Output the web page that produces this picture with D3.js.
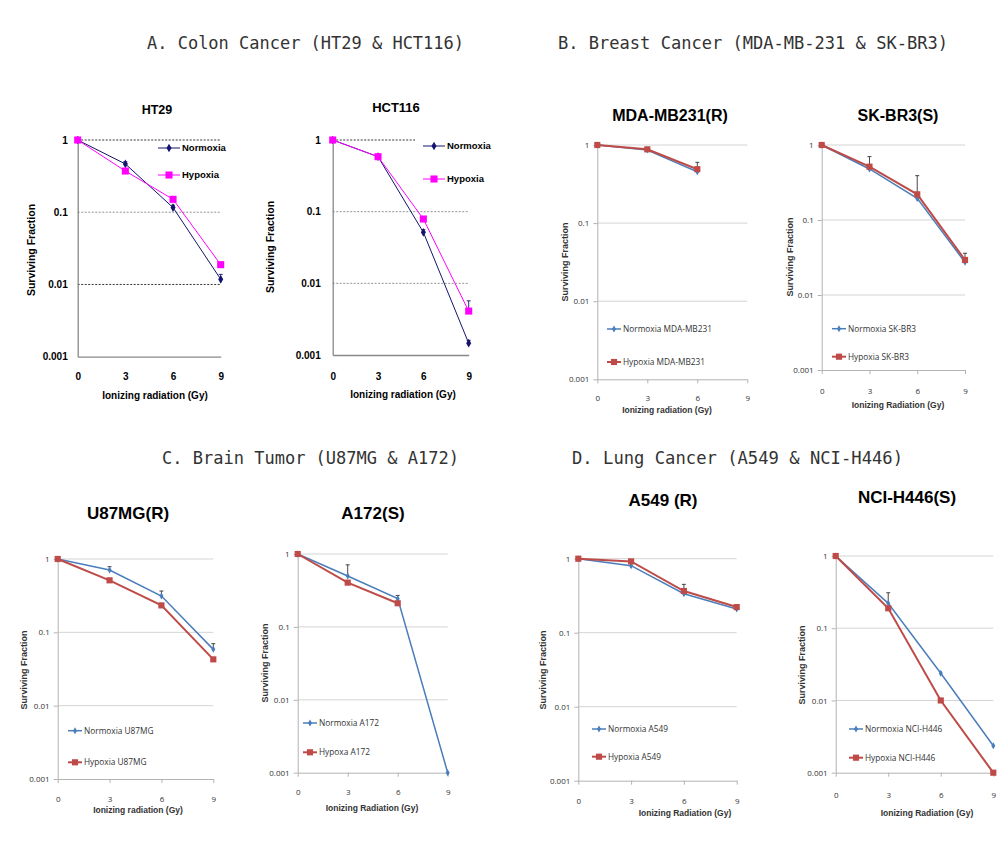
<!DOCTYPE html>
<html><head><meta charset="utf-8">
<script src="https://cdn.jsdelivr.net/npm/d3@7"></script>
<style>body{margin:0;background:#fff}</style>
</head><body>
<svg id="chart" width="1005" height="859"></svg>
<script>
// ---------- DATA ----------
const doses = [0, 3, 6, 9];
const xTicks = [0, 3, 6, 9];
const yTicks = [1, 0.1, 0.01, 0.001];
const yTickLabels = ["1", "0.1", "0.01", "0.001"];
const sectionTitles = [
  "A. Colon Cancer (HT29 & HCT116)",
  "B. Breast Cancer (MDA-MB-231 & SK-BR3)",
  "C. Brain Tumor (U87MG & A172)",
  "D. Lung Cancer (A549 & NCI-H446)"
];
const panelNames = ["HT29", "HCT116", "MDA-MB231(R)", "SK-BR3(S)", "U87MG(R)", "A172(S)", "A549 (R)", "NCI-H446(S)"];
const xAxisTitles = ["Ionizing radiation (Gy)", "Ionizing radiation (Gy)", "Ionizing radiation (Gy)", "Ionizing Radiation (Gy)",
  "Ionizing radiation (Gy)", "Ionizing Radiation (Gy)", "Ionizing Radiation (Gy)", "Ionizing Radiation (Gy)"];
const yAxisTitle = "Surviving Fraction";
const normoxiaLabels = ["Normoxia", "Normoxia", "Normoxia MDA-MB231", "Normoxia SK-BR3", "Normoxia U87MG", "Normoxia A172", "Normoxia A549", "Normoxia NCI-H446"];
const hypoxiaLabels = ["Hypoxia", "Hypoxia", "Hypoxia MDA-MB231", "Hypoxia SK-BR3", "Hypoxia U87MG", "Hypoxa A172", "Hypoxia A549", "Hypoxia NCI-H446"];

const ht29Normoxia   = [1, 0.466, 0.116, 0.0118];
const ht29Hypoxia    = [1, 0.372, 0.151, 0.0188];
const hct116Normoxia = [1, 0.585, 0.0515, 0.00146];
const hct116Hypoxia  = [1, 0.585, 0.079, 0.0041];
const mdaNormoxia    = [1, 0.86, 0.454, null];
const mdaHypoxia     = [1, 0.88, 0.49, null];
const skbr3Normoxia  = [1, 0.479, 0.194, 0.0273];
const skbr3Hypoxia   = [1, 0.514, 0.22, 0.0293];
const u87Normoxia    = [1, 0.708, 0.313, 0.0586];
const u87Hypoxia     = [1, 0.512, 0.233, 0.0428];
const a172Normoxia   = [1, 0.5, 0.244, 0.001];
const a172Hypoxia    = [1, 0.405, 0.211, null];
const a549Normoxia   = [1, 0.805, 0.336, 0.209];
const a549Hypoxia    = [1, 0.92, 0.366, 0.222];
const nciNormoxia    = [1, 0.221, 0.0238, 0.00236];
const nciHypoxia     = [1, 0.189, 0.01, 0.001];

// upper ends of error bars
const ht29NormoxiaErr   = [null, 0.50, 0.125, 0.0138];
const ht29HypoxiaErr    = [null, null, null, null];
const hct116NormoxiaErr = [null, null, 0.056, 0.0016];
const hct116HypoxiaErr  = [null, null, null, 0.0057];
const mdaNormoxiaErr    = [null, 0.93, 0.6, null];
const mdaHypoxiaErr     = [null, null, null, null];
const skbr3NormoxiaErr  = [null, 0.70, 0.39, 0.036];
const skbr3HypoxiaErr   = [null, null, null, null];
const u87NormoxiaErr    = [null, 0.785, 0.366, 0.07];
const u87HypoxiaErr     = [null, null, null, null];
const a172NormoxiaErr   = [null, 0.71, 0.27, null];
const a172HypoxiaErr    = [null, null, null, null];
const a549NormoxiaErr   = [null, null, null, null];
const a549HypoxiaErr    = [null, null, 0.45, null];
const nciNormoxiaErr    = [null, 0.31, null, null];
const nciHypoxiaErr     = [null, null, null, null];

const normoxiaSeries = [ht29Normoxia, hct116Normoxia, mdaNormoxia, skbr3Normoxia, u87Normoxia, a172Normoxia, a549Normoxia, nciNormoxia];
const hypoxiaSeries  = [ht29Hypoxia, hct116Hypoxia, mdaHypoxia, skbr3Hypoxia, u87Hypoxia, a172Hypoxia, a549Hypoxia, nciHypoxia];
const normoxiaErrs   = [ht29NormoxiaErr, hct116NormoxiaErr, mdaNormoxiaErr, skbr3NormoxiaErr, u87NormoxiaErr, a172NormoxiaErr, a549NormoxiaErr, nciNormoxiaErr];
const hypoxiaErrs    = [ht29HypoxiaErr, hct116HypoxiaErr, mdaHypoxiaErr, skbr3HypoxiaErr, u87HypoxiaErr, a172HypoxiaErr, a549HypoxiaErr, nciHypoxiaErr];

// ---------- LAYOUT ----------
const sectionLayout = [
  {x: 147, y: 49, w: 317}, {x: 558, y: 49, w: 390},
  {x: 162, y: 464, w: 297}, {x: 572, y: 464, w: 331}
];
const layout = [
  {style: "colon", x0: 77.7, x9: 220.7, y1: 140, y3: 356.7, tx: 157, ty: 114, fs: 12.5, xtx: 155, xty: 399, ytx: 31.7, yty: 250, yGap: 10, xGap: 16, lx: 158, ly: [148, 175], grid1: 220.7, gridColors: ["#000", "#777", "#000"]},
  {style: "colon", x0: 332.7, x9: 468.7, y1: 140, y3: 355, tx: 396, ty: 112, fs: 13, xtx: 403, xty: 398, ytx: 270, yty: 247, yGap: 12, xGap: 18, lx: 423, ly: [146, 179], grid1: 415, gridColors: ["#000", "#777", "#777"]},
  {style: "excel", x0: 597.3, x9: 747.3, y1: 145, y3: 379.3, tx: 670, ty: 121, fs: 16, xtx: 667, xty: 413, ytx: 565, yty: 262, xGap: 12, lx: 607, ly: [329, 362]},
  {style: "excel", x0: 821.7, x9: 965, y1: 145, y3: 370, tx: 898, ty: 121, fs: 16, xtx: 898, xty: 408, ytx: 790, yty: 257, xGap: 14, lx: 832, ly: [328.7, 356.7]},
  {style: "excel", x0: 57.7, x9: 213.3, y1: 559, y3: 779, tx: 128, ty: 519, fs: 17, xtx: 138, xty: 813, ytx: 24, yty: 670, xGap: 13, lx: 68, ly: [730.7, 762.3]},
  {style: "excel", x0: 297.7, x9: 447.7, y1: 554, y3: 772.7, tx: 373, ty: 519, fs: 17, xtx: 372, xty: 811, ytx: 265, yty: 663, xGap: 12.5, lx: 303, ly: [723, 752.3]},
  {style: "excel", x0: 578.3, x9: 736.7, y1: 558.7, y3: 780.7, tx: 663, ty: 506, fs: 17, xtx: 685, xty: 816, ytx: 543, yty: 670, xGap: 14, lx: 592, ly: [729, 756.7]},
  {style: "excel", x0: 835.7, x9: 993.3, y1: 556, y3: 772.7, tx: 907, ty: 503, fs: 17, xtx: 927, xty: 816, ytx: 801.7, yty: 665, xGap: 16, lx: 849, ly: [729, 757.7]}
];

const styles = {
  colon: {
    font: "'Liberation Sans', Arial, sans-serif",
    tickSize: 10, tickWeight: "bold", tickColor: "#000",
    axisTitleSize: 10, legendSize: 9.5, legendWeight: "bold",
    norm: {color: "#14146e", width: 1, symbol: d3.symbolDiamond, size: 22},
    hyp: {color: "#ff00ff", width: 1, symbol: d3.symbolSquare, size: 50},
    axisColor: "#888", errColor: "#14146e"
  },
  excel: {
    font: "'Open Sans', 'Noto Sans', sans-serif",
    titleFont: "'Liberation Sans', Arial, sans-serif",
    tickSize: 8, tickWeight: "normal", tickColor: "#333",
    axisTitleSize: 8.5, legendSize: 8.3, legendWeight: "normal",
    norm: {color: "#4a7ebb", width: 1.5, symbol: d3.symbolDiamond, size: 14},
    hyp: {color: "#be4b48", width: 2, symbol: d3.symbolSquare, size: 38},
    axisColor: "#b3b3b3", errColor: "#333"
  }
};

const svg = d3.select("#chart");

// section titles
sectionTitles.forEach((t, i) => {
  const L = sectionLayout[i];
  svg.append("text").attr("x", L.x).attr("y", L.y).text(t)
    .attr("font-family", "'DejaVu Sans Mono', monospace").attr("font-size", 18)
    .attr("fill", "#333").attr("textLength", L.w).attr("lengthAdjust", "spacingAndGlyphs");
});

layout.forEach((L, i) => {
  const S = styles[L.style];
  const isColon = L.style === "colon";
  const g = svg.append("g");
  const x = d3.scaleLinear().domain([0, 9]).range([L.x0, L.x9]);
  const y = d3.scaleLog().domain([1, 0.001]).range([L.y1, L.y3]);

  // gridlines
  if (isColon) {
    [1, 0.1, 0.01].forEach((v, k) => {
      g.append("line").attr("x1", x(0)).attr("x2", k === 0 ? L.grid1 : x(9))
        .attr("y1", y(v)).attr("y2", y(v))
        .attr("stroke", L.gridColors[k]).attr("stroke-width", 0.8).attr("stroke-dasharray", "2,1.5");
    });
  } else {
    [1, 0.1, 0.01].forEach(v => {
      g.append("line").attr("x1", x(0)).attr("x2", x(9)).attr("y1", y(v)).attr("y2", y(v))
        .attr("stroke", "#d4d4d4").attr("stroke-width", 1);
    });
  }

  // axes
  const yAxis = d3.axisLeft(y).tickValues(yTicks).tickFormat((d, k) => yTickLabels[k])
    .tickSizeInner(isColon ? 0 : 4).tickSizeOuter(0).tickPadding(isColon ? L.yGap : 4);
  const xAxis = d3.axisBottom(x).tickValues(xTicks).tickFormat(d3.format("d"))
    .tickSizeInner(isColon ? 0 : 4).tickSizeOuter(0).tickPadding(L.xGap);
  const ya = g.append("g").attr("transform", `translate(${L.x0},0)`).call(yAxis);
  const xa = g.append("g").attr("transform", `translate(0,${L.y3})`).call(xAxis);
  [ya, xa].forEach(a => {
    a.select(".domain").attr("stroke", S.axisColor).attr("stroke-width", isColon ? 1.3 : 1);
    a.selectAll(".tick line").attr("stroke", S.axisColor);
    a.selectAll(".tick text").attr("font-family", S.font).attr("font-size", S.tickSize)
      .attr("font-weight", S.tickWeight).attr("fill", S.tickColor);
  });

  // panel title
  g.append("text").attr("x", L.tx).attr("y", L.ty).attr("text-anchor", "middle")
    .attr("font-family", isColon ? S.font : S.titleFont).attr("font-weight", "bold")
    .attr("font-size", L.fs).attr("fill", "#000").text(panelNames[i]);

  // axis titles
  g.append("text").attr("x", L.xtx).attr("y", L.xty).attr("text-anchor", "middle")
    .attr("font-family", "'Liberation Sans', Arial, sans-serif")
    .attr("font-weight", "bold").attr("font-size", S.axisTitleSize)
    .attr("fill", isColon ? "#000" : "#333").text(xAxisTitles[i]);
  g.append("text").attr("transform", `translate(${L.ytx},${L.yty}) rotate(-90)`)
    .attr("text-anchor", "middle").attr("dy", "0.35em")
    .attr("font-family", "'Liberation Sans', Arial, sans-serif")
    .attr("font-weight", "bold").attr("font-size", isColon ? 10.5 : 9)
    .attr("fill", isColon ? "#000" : "#333").text(yAxisTitle);

  // series
  const seriesList = [
    {vals: normoxiaSeries[i], err: normoxiaErrs[i], st: S.norm, label: normoxiaLabels[i]},
    {vals: hypoxiaSeries[i], err: hypoxiaErrs[i], st: S.hyp, label: hypoxiaLabels[i]}
  ];
  const line = d3.line().defined(d => d.v !== null).x(d => x(d.d)).y(d => y(d.v));

  // error bars (upper half visible)
  seriesList.forEach(s => {
    const pts = doses.map((d, k) => ({d, v: s.vals[k], e: s.err[k]})).filter(p => p.e !== null && p.v !== null);
    pts.forEach(p => {
      g.append("line").attr("x1", x(p.d)).attr("x2", x(p.d)).attr("y1", y(p.e)).attr("y2", y(p.v))
        .attr("stroke", S.errColor).attr("stroke-width", 0.9);
      g.append("line").attr("x1", x(p.d) - 2).attr("x2", x(p.d) + 2).attr("y1", y(p.e)).attr("y2", y(p.e))
        .attr("stroke", S.errColor).attr("stroke-width", 0.9);
    });
  });

  seriesList.forEach(s => {
    const data = doses.map((d, k) => ({d, v: s.vals[k]}));
    g.append("path").datum(data).attr("d", line).attr("fill", "none")
      .attr("stroke", s.st.color).attr("stroke-width", s.st.width);
    g.selectAll(null).data(data.filter(p => p.v !== null)).enter().append("path")
      .attr("d", d3.symbol().type(s.st.symbol).size(s.st.size))
      .attr("transform", p => `translate(${x(p.d)},${y(p.v)})`)
      .attr("fill", s.st.color);
  });

  // legend
  seriesList.forEach((s, k) => {
    const ly = L.ly[k];
    const len = isColon ? 22 : 14;
    g.append("line").attr("x1", L.lx).attr("x2", L.lx + len).attr("y1", ly).attr("y2", ly)
      .attr("stroke", s.st.color).attr("stroke-width", s.st.width);
    g.append("path").attr("d", d3.symbol().type(s.st.symbol).size(s.st.size))
      .attr("transform", `translate(${L.lx + len / 2},${ly})`).attr("fill", s.st.color);
    g.append("text").attr("x", L.lx + len + 2).attr("y", ly).attr("dy", "0.35em")
      .attr("font-family", S.font).attr("font-weight", S.legendWeight)
      .attr("font-size", S.legendSize).attr("fill", isColon ? "#000" : "#333").text(s.label);
  });
});
</script>
</body></html>
